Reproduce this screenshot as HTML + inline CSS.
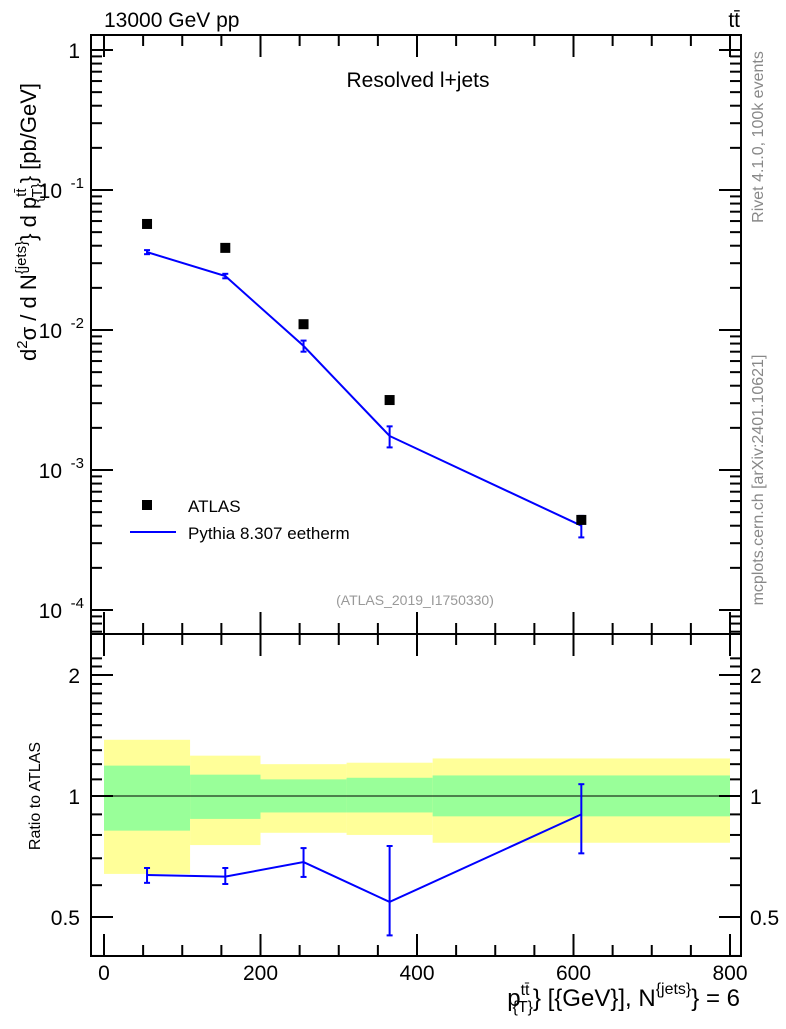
<!DOCTYPE html>
<html><head><meta charset="utf-8"><style>
body{margin:0;background:#fff;}
text{font-family:"Liberation Sans",sans-serif;}
</style></head><body>
<svg id="c" width="786" height="1024" xmlns="http://www.w3.org/2000/svg">
<g id="g"></g>
<text x="104" y="27" font-size="21">13000 GeV pp</text>
<text x="740" y="27" font-size="21" text-anchor="end">tt̄</text>
<text x="418" y="87" font-size="21" text-anchor="middle">Resolved l+jets</text>
<rect x="142" y="500" width="10" height="10" fill="#000"/>
<text x="188" y="512" font-size="17">ATLAS</text>
<line x1="130" x2="176" y1="532" y2="532" stroke="#0000ff" stroke-width="2"/>
<text x="188" y="539" font-size="17">Pythia 8.307 eetherm</text>
<text x="415" y="605" font-size="14" fill="#999" text-anchor="middle">(ATLAS_2019_I1750330)</text>
<text font-size="16" fill="#888" text-anchor="middle" transform="translate(763,137) rotate(-90)">Rivet 4.1.0,  100k events</text>
<text font-size="16" fill="#888" text-anchor="middle" transform="translate(763,480) rotate(-90)">mcplots.cern.ch [arXiv:2401.10621]</text>
<text font-size="22" text-anchor="middle" transform="translate(36,222) rotate(-90)">d<tspan dy="-9" font-size="15">2</tspan><tspan dy="9">σ /  d N</tspan><tspan dy="-10" font-size="15">{jets}</tspan><tspan dy="10">} d p</tspan><tspan dy="-10" font-size="15">tt̄</tspan><tspan dy="16" dx="-14" font-size="15">{T}</tspan><tspan dy="-6">} [pb/GeV]</tspan></text>
<text font-size="16" text-anchor="middle" transform="translate(40,796) rotate(-90)">Ratio to ATLAS</text>
<text x="740" y="1006" font-size="24" text-anchor="end">p<tspan dy="-11" font-size="16">tt̄</tspan><tspan dy="17" dx="-17" font-size="16">{T}</tspan><tspan dy="-6">} [{GeV}], N</tspan><tspan dy="-12" font-size="16">{jets}</tspan><tspan dy="12">} = 6</tspan></text>
</svg>
<script>
const binEdges=[0,110,200,310,420,800];
const xCenters=[55,155,255,365,610];
const dataVals=[0.0572,0.0386,0.0110,0.00316,0.00044];
const mcVals=[0.0360,0.0243,0.0077,0.00175,0.00040];
const mcErr=[0.0012,0.0009,0.0007,0.00030,0.00007];
const ratioVals=[0.636,0.63,0.685,0.545,0.90];
const ratioLo=[0.608,0.604,0.629,0.45,0.72];
const ratioHi=[0.662,0.662,0.742,0.751,1.07];
const yelLo=[0.64,0.755,0.81,0.80,0.765];
const yelHi=[1.38,1.26,1.20,1.21,1.24];
const grnLo=[0.82,0.877,0.91,0.91,0.89];
const grnHi=[1.19,1.13,1.10,1.11,1.125];
const xTicks=[0,200,400,600,800];
const yTicks=[1,0.1,0.01,0.001,0.0001];
const yTickLabels=["1","10","10","10","10"];
const yTickExp=["","-1","-2","-3","-4"];
const rTicks=[0.5,1,2];

const L=91,R=741,T=35,M=634,B=956;
const X=v=>104+v*(730-104)/800;
const Y=v=>50-140*Math.log10(v);
const RY=v=>796-121*Math.log2(v);
const NS="http://www.w3.org/2000/svg";
const g=document.getElementById('g');
function el(t,a,txt){const e=document.createElementNS(NS,t);for(const k in a)e.setAttribute(k,a[k]);if(txt!==undefined)e.textContent=txt;g.appendChild(e);return e;}

for(let i=0;i<5;i++){
 const x0=X(binEdges[i]),x1=X(binEdges[i+1]);
 const y=el('rect',{x:x0,y:RY(yelHi[i]),width:x1-x0,height:RY(yelLo[i])-RY(yelHi[i]),fill:'#ffff99'});
 
 
 const gr=el('rect',{x:x0,y:RY(grnHi[i]),width:x1-x0,height:RY(grnLo[i])-RY(grnHi[i]),fill:'#99ff99'});
 
 
}
el('line',{x1:L,x2:R,y1:RY(1),y2:RY(1),stroke:'#000','stroke-width':1});

el('rect',{x:L,y:T,width:R-L,height:M-T,fill:'none',stroke:'#000','stroke-width':2});
el('rect',{x:L,y:M,width:R-L,height:B-M,fill:'none',stroke:'#000','stroke-width':2});

for(let v=0;v<=800;v+=50){
 const major=v%200===0,len=major?22:11,x=X(v);
 el('line',{x1:x,x2:x,y1:M,y2:M-len,stroke:'#000','stroke-width':2});
 el('line',{x1:x,x2:x,y1:M,y2:M+len,stroke:'#000','stroke-width':2});
 el('line',{x1:x,x2:x,y1:B,y2:B-len,stroke:'#000','stroke-width':2});
 el('line',{x1:x,x2:x,y1:T,y2:T+len,stroke:'#000','stroke-width':2});
}
xTicks.forEach(v=>{const t=el('text',{x:X(v),y:980,'font-size':21,'text-anchor':'middle'},String(v));
 });

for(let d=-5;d<=0;d++){
 for(let m=1;m<=9;m++){
  const v=m*Math.pow(10,d),y=Y(v);
  if(y<T||y>M)continue;
  const len=m===1?22:11;
  el('line',{x1:L,x2:L+len,y1:y,y2:y,stroke:'#000','stroke-width':2});
  el('line',{x1:R,x2:R-len,y1:y,y2:y,stroke:'#000','stroke-width':2});
 }
}
yTicks.forEach((v,i)=>{
 const t=el('text',{x:yTickExp[i]?62:80,y:Y(v)+8,'font-size':21,'text-anchor':'end'},yTickLabels[i]);
 
 if(yTickExp[i]){el('text',{x:84,y:Y(v)-2,'font-size':15,'text-anchor':'end'},yTickExp[i]);}
});
for(let v=0.4;v<=2.3;v+=0.1){
 const vv=Math.round(v*10)/10,y=RY(vv);
 if(y<M||y>B)continue;
 const major=rTicks.includes(vv),len=major?22:11;
 el('line',{x1:L,x2:L+len,y1:y,y2:y,stroke:'#000','stroke-width':2});
 el('line',{x1:R,x2:R-len,y1:y,y2:y,stroke:'#000','stroke-width':2});
}
rTicks.forEach(v=>{
 el('text',{x:80,y:RY(v)+8,'font-size':21,'text-anchor':'end'},String(v));
 el('text',{x:750,y:RY(v)+8,'font-size':21},String(v));
});

let pts=xCenters.map((x,i)=>X(x)+','+Y(mcVals[i])).join(' ');
const pl=el('polyline',{points:pts,fill:'none',stroke:'#0000ff','stroke-width':2});

xCenters.forEach((x,i)=>{
 const y1=Y(mcVals[i]+mcErr[i]),y2=Y(mcVals[i]-mcErr[i]);
 el('line',{x1:X(x),x2:X(x),y1:y1,y2:y2,stroke:'#0000ff','stroke-width':2});
 el('line',{x1:X(x)-3,x2:X(x)+3,y1:y1,y2:y1,stroke:'#0000ff','stroke-width':2});
 el('line',{x1:X(x)-3,x2:X(x)+3,y1:y2,y2:y2,stroke:'#0000ff','stroke-width':2});
 const r=el('rect',{x:X(x)-5,y:Y(dataVals[i])-5,width:10,height:10,fill:'#000'});
 
});
pts=xCenters.map((x,i)=>X(x)+','+RY(ratioVals[i])).join(' ');
const rl=el('polyline',{points:pts,fill:'none',stroke:'#0000ff','stroke-width':2});

xCenters.forEach((x,i)=>{
 const y1=RY(ratioHi[i]),y2=RY(ratioLo[i]);
 el('line',{x1:X(x),x2:X(x),y1:y1,y2:y2,stroke:'#0000ff','stroke-width':2});
 el('line',{x1:X(x)-3,x2:X(x)+3,y1:y1,y2:y1,stroke:'#0000ff','stroke-width':2});
 el('line',{x1:X(x)-3,x2:X(x)+3,y1:y2,y2:y2,stroke:'#0000ff','stroke-width':2});
});
</script>
</body></html>
